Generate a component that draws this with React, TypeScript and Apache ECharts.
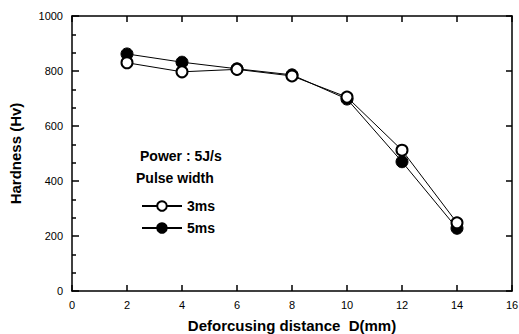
import React, { useEffect, useRef } from "react";
import * as echarts from "echarts";

const distances = [2, 4, 6, 8, 10, 12, 14];
const hardness3ms = [830, 797, 806, 782, 705, 512, 248];
const hardness5ms = [862, 832, 808, 786, 698, 470, 228];
const xTicks = [0, 2, 4, 6, 8, 10, 12, 14, 16];
const yTicks = [0, 200, 400, 600, 800, 1000];

const FONT = "Liberation Sans, Arial, sans-serif";

export default function App() {
  const ref = useRef<HTMLDivElement>(null);
  useEffect(() => {
    if (!ref.current) return;
    const chart = echarts.init(ref.current, undefined, { renderer: "svg" });
    const axisLine = { show: true, onZero: false, lineStyle: { color: "#000", width: 1.5 } };
    const tickStyle = { color: "#000", width: 1.5 };
    chart.setOption({
      animation: false,
      backgroundColor: "#fff",
      grid: { left: 72, right: 7, top: 16, bottom: 43, containLabel: false, outerBoundsMode: "none" },
      xAxis: [
        {
          type: "value",
          min: xTicks[0],
          max: xTicks[xTicks.length - 1],
          interval: 2,
          position: "bottom",
          axisLine,
          axisTick: { show: true, inside: true, length: 6, lineStyle: tickStyle },
          axisLabel: { color: "#000", fontSize: 11, fontFamily: FONT, margin: 8 },
          splitLine: { show: false },
          name: "Deforcusing distance  D(mm)",
          nameLocation: "middle",
          nameGap: 27,
          nameTextStyle: { color: "#000", fontSize: 15, fontWeight: "bold", fontFamily: FONT },
        },
        {
          type: "value",
          min: xTicks[0],
          max: xTicks[xTicks.length - 1],
          interval: 2,
          position: "top",
          axisLine,
          axisTick: { show: true, inside: true, length: 6, lineStyle: tickStyle },
          axisLabel: { show: false },
          splitLine: { show: false },
        },
      ],
      yAxis: [
        {
          type: "value",
          min: yTicks[0],
          max: yTicks[yTicks.length - 1],
          interval: 200,
          position: "left",
          axisLine,
          axisTick: { show: true, inside: true, length: 7, lineStyle: tickStyle },
          minorTick: { show: true, splitNumber: 3, length: 4, lineStyle: tickStyle },
          axisLabel: {
            color: "#000",
            fontSize: 11,
            fontFamily: FONT,
            margin: 9,
            formatter: (v: number) => String(v),
          },
          splitLine: { show: false },
          name: "Hardness (Hv)",
          nameLocation: "middle",
          nameGap: 49,
          nameTextStyle: { color: "#000", fontSize: 15, fontWeight: "bold", fontFamily: FONT },
        },
        {
          type: "value",
          min: yTicks[0],
          max: yTicks[yTicks.length - 1],
          interval: 200,
          position: "right",
          axisLine,
          axisTick: { show: true, inside: true, length: 6, lineStyle: tickStyle },
          axisLabel: { show: false },
          splitLine: { show: false },
        },
      ],
      legend: {
        orient: "vertical",
        left: 136,
        top: 194,
        itemWidth: 40,
        itemHeight: 12,
        itemGap: 8,
        textStyle: { color: "#000", fontSize: 14, fontWeight: "bold", fontFamily: FONT },
        data: ["3ms", "5ms"],
      },
      graphic: [
        {
          type: "text",
          left: 140,
          top: 149,
          style: { text: "Power : 5J/s", fill: "#000", font: `bold 14px ${FONT}` },
        },
        {
          type: "text",
          left: 136,
          top: 171,
          style: { text: "Pulse width", fill: "#000", font: `bold 14px ${FONT}` },
        },
      ],
      series: [
        {
          name: "3ms",
          type: "line",
          data: distances.map((d, i) => [d, hardness3ms[i]]),
          symbol: "circle",
          symbolSize: 11,
          itemStyle: { color: "#fff", borderColor: "#000", borderWidth: 2 },
          lineStyle: { color: "#000", width: 1 },
          z: 3,
        },
        {
          name: "5ms",
          type: "line",
          data: distances.map((d, i) => [d, hardness5ms[i]]),
          symbol: "circle",
          symbolSize: 12,
          itemStyle: { color: "#000", borderColor: "#000", borderWidth: 1 },
          lineStyle: { color: "#000", width: 1 },
          z: 2,
        },
      ],
    });
    return () => chart.dispose();
  }, []);
  return <div ref={ref} style={{ width: 519, height: 334, position: "absolute", left: 0, top: 0 }} />;
}
